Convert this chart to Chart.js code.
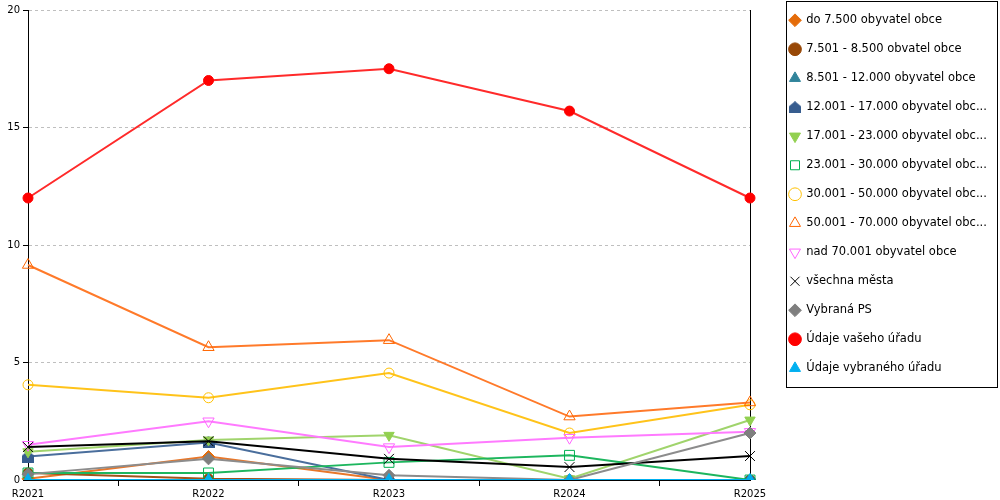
<!DOCTYPE html>
<html>
<head>
<meta charset="utf-8">
<script src="https://cdn.jsdelivr.net/npm/chart.js@4/dist/chart.umd.min.js"></script>
<style>
  html, body { margin: 0; padding: 0; background: #fff; }
  #wrap { width: 1000px; height: 500px; }
</style>
</head>
<body>
<div id="wrap"><canvas id="chart" width="1000" height="500"></canvas></div>
<script>
// categories
const years = ['R2021', 'R2022', 'R2023', 'R2024', 'R2025'];

// series values
const do7500 = [0.05, 1.0, 0, 0, 0];
const od7501 = [0.3, 0.05, 0, 0, 0];
const od8501 = [0, 0, 0, 0, 0];
const od12001 = [1.0, 1.6, 0, 0, 0];
const od17001 = [1.2, 1.7, 1.9, 0.05, 2.55];
const od23001 = [0.3, 0.3, 0.75, 1.05, 0];
const od30001 = [4.05, 3.5, 4.55, 2.0, 3.2];
const od50001 = [9.15, 5.65, 5.95, 2.7, 3.3];
const nad70001 = [1.5, 2.5, 1.4, 1.8, 2.05];
const vsechnaMesta = [1.4, 1.65, 0.9, 0.55, 1.02];
const vybranaPS = [0.25, 0.9, 0.2, 0, 2.0];
const vasUrad = [12, 17, 17.5, 15.7, 12];
const vybranyUrad = [0, 0, 0, 0, 0];

// y axis ticks
const yTicks = [0, 5, 10, 15, 20];

const maxLegendChars = 28;

// small "house" marker for the 12.001 - 17.000 series
function houseMarker(color) {
  const c = document.createElement('canvas');
  c.width = 12; c.height = 12;
  const g = c.getContext('2d');
  g.fillStyle = color;
  g.beginPath();
  g.moveTo(6, 0); g.lineTo(12, 5); g.lineTo(12, 12); g.lineTo(0, 12); g.lineTo(0, 5);
  g.closePath();
  g.fill();
  return c;
}

const hollow = 'rgba(255,255,255,0)';

function series(label, data, line, marker, style, extra) {
  return Object.assign({
    label: label,
    data: data,
    borderColor: line,
    backgroundColor: marker,
    pointStyle: style,
    pointBorderColor: marker,
    pointBackgroundColor: marker,
    pointRadius: 5,
    pointBorderWidth: 1,
    borderWidth: 2,
    tension: 0
  }, extra || {});
}

const datasets = [
  series('do 7.500 obyvatel obce', do7500, '#E8772A', '#E46C0A', 'rectRot', { pointRadius: 6 }),
  series('7.501 - 8.500 obvatel obce', od7501, '#A0541A', '#984807', 'circle'),
  series('8.501 - 12.000 obyvatel obce', od8501, '#31849B', '#31849B', 'triangle', { pointRadius: 6 }),
  series('12.001 - 17.000 obyvatel obce', od12001, '#4A6E9C', '#375D8F', houseMarker('#375D8F')),
  series('17.001 - 23.000 obyvatel obce', od17001, '#A0D46C', '#92D050', 'triangle', { pointRadius: 6, pointRotation: 180 }),
  series('23.001 - 30.000 obyvatel obce', od23001, '#1DB65E', '#00B050', 'rect', { pointRadius: 7, pointBackgroundColor: hollow }),
  series('30.001 - 50.000 obyvatel obce', od30001, '#FFC31A', '#FFC000', 'circle', { pointRadius: 5, pointBackgroundColor: hollow }),
  series('50.001 - 70.000 obyvatel obce', od50001, '#FF7A2A', '#FF6600', 'triangle', { pointRadius: 6.5, pointBackgroundColor: hollow }),
  series('nad 70.001 obyvatel obce', nad70001, '#FF7AFF', '#FF66FF', 'triangle', { pointRadius: 6.5, pointRotation: 180, pointBackgroundColor: hollow }),
  series('všechna města', vsechnaMesta, '#000000', '#000000', 'crossRot', { pointRadius: 7 }),
  series('Vybraná PS', vybranaPS, '#8C8C8C', '#7F7F7F', 'rectRot', { pointRadius: 6 }),
  series('Údaje vašeho úřadu', vasUrad, '#FF2A2A', '#FF0000', 'circle', { pointRadius: 5 }),
  series('Údaje vybraného úřadu', vybranyUrad, '#00B0F0', '#00B0F0', 'triangle', { pointRadius: 6.5 })
];
// later series are painted on top, like in the original
datasets.forEach((d, i) => { d.order = datasets.length - i; });

// frame round the legend + nudge the legend into place
const legendFrame = {
  id: 'legendFrame',
  afterLayout(chart) {
    const lg = chart.legend;
    lg.left -= 13;
    lg.top -= 3;
  },
  afterDraw(chart) {
    const lg = chart.legend;
    const hb = lg.legendHitBoxes;
    if (!hb || !hb.length) return;
    const first = hb[0], last = hb[hb.length - 1];
    const x0 = Math.round(first.left - 4) + 0.5;
    const y0 = Math.round(first.top + first.height / 2 - 19) + 0.5;
    const y1 = Math.round(last.top + last.height / 2 + 19) + 0.5;
    const x1 = chart.width - 2.5;
    const ctx = chart.ctx;
    ctx.save();
    ctx.strokeStyle = '#000';
    ctx.lineWidth = 1;
    ctx.strokeRect(x0, y0, x1 - x0, y1 - y0);
    ctx.restore();
  }
};

const axisFont = { family: 'DejaVu Sans', size: 10 };

new Chart(document.getElementById('chart'), {
  type: 'line',
  data: { labels: years, datasets: datasets },
  options: {
    responsive: false,
    animation: false,
    events: [],
    layout: { padding: 0 },
    scales: {
      x: {
        offset: false,
        grid: { offset: true, drawOnChartArea: false, tickLength: 6, tickColor: '#000', color: '#000' },
        border: { color: '#000', width: 1 },
        ticks: { color: '#000', font: axisFont, padding: 2, maxRotation: 0, autoSkip: false },
        afterFit: (s) => { s.height = 20; }
      },
      y: {
        min: 0,
        max: 20,
        afterBuildTicks: (s) => { s.ticks = yTicks.map(v => ({ value: v })); },
        grid: { color: '#BFBFBF', tickColor: '#000', tickLength: 5, tickBorderDash: [] },
        border: { color: '#000', width: 1, dash: [3, 3] },
        ticks: { color: '#000', font: axisFont, padding: 3 },
        afterFit: (s) => { s.width = 28; s.paddingTop = 10; }
      },
      y2: {
        position: 'right',
        min: 0,
        max: 20,
        grid: { drawOnChartArea: false, drawTicks: false },
        border: { color: '#000', width: 1 },
        ticks: { display: false },
        afterFit: (s) => { s.width = 35; }
      }
    },
    plugins: {
      tooltip: { enabled: false },
      legend: {
        position: 'right',
        align: 'start',
        maxWidth: 215,
        labels: {
          usePointStyle: true,
          boxWidth: 11,
          boxHeight: 9,
          padding: 17.5,
          color: '#000',
          font: { family: 'DejaVu Sans', size: 11.5 },
          generateLabels(chart) {
            const items = Chart.defaults.plugins.legend.labels.generateLabels(chart);
            items.sort((a, b) => a.datasetIndex - b.datasetIndex);
            items.forEach(it => {
              if (it.text.length > maxLegendChars) it.text = it.text.slice(0, maxLegendChars) + '...';
            });
            return items;
          }
        }
      }
    }
  },
  plugins: [legendFrame]
});
</script>
</body>
</html>
